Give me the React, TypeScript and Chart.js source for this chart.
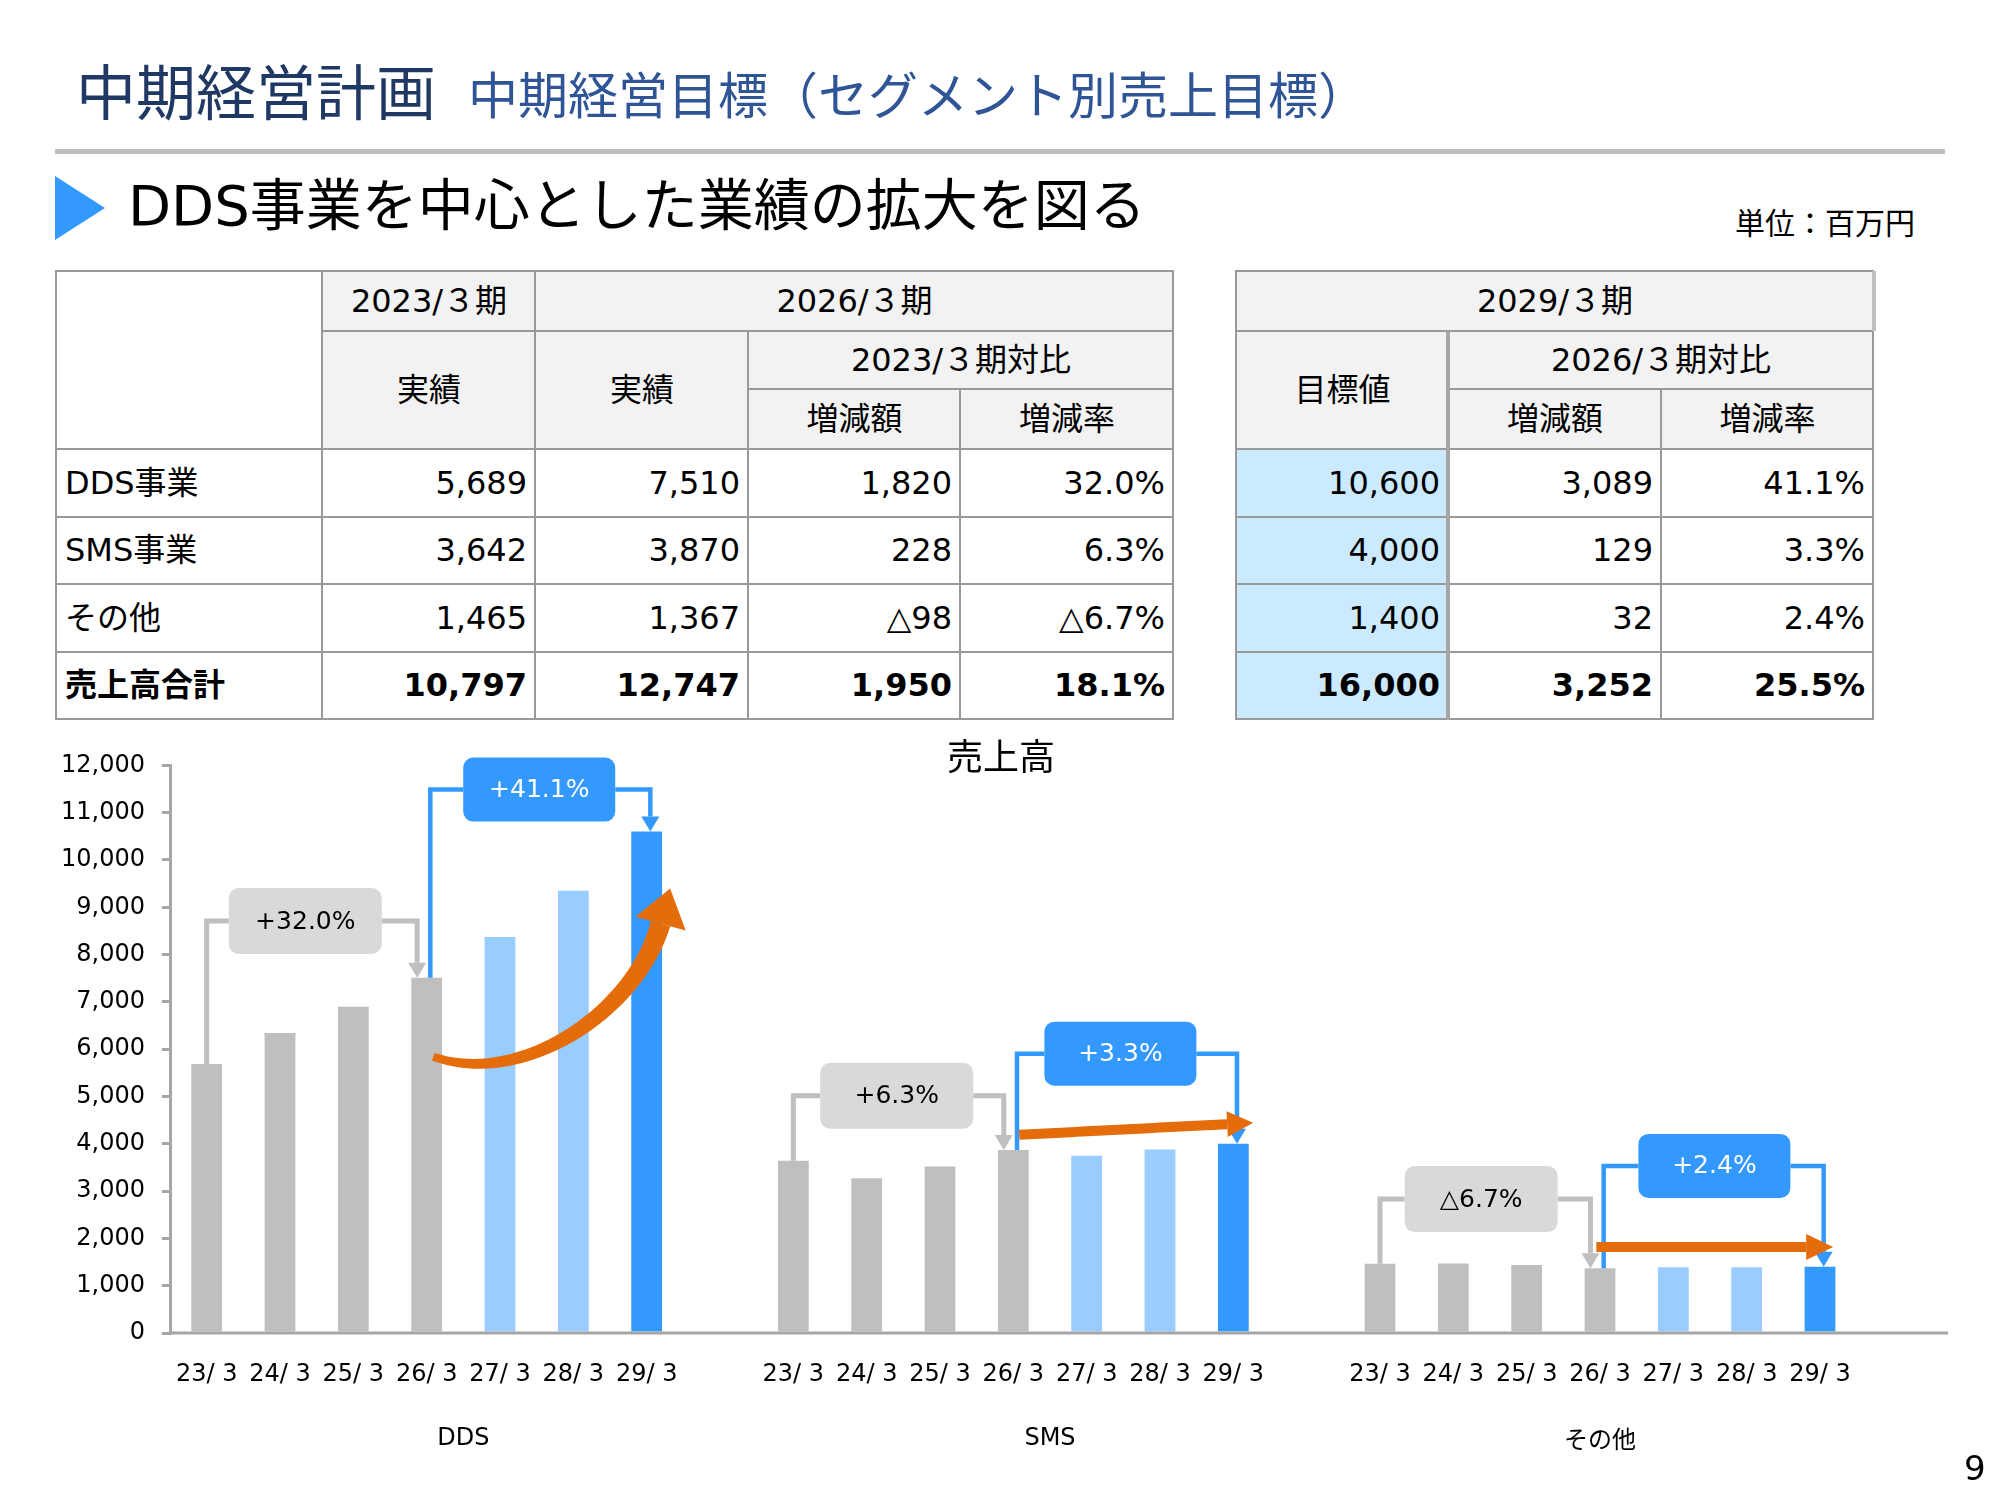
import React, { useEffect, useRef } from "react";
import { Chart, registerables } from "chart.js";

Chart.register(...registerables);

const FONT_LATIN = "'DejaVu Sans', 'Noto Sans CJK JP', sans-serif";
const FONT_JP = "'Noto Sans CJK JP', sans-serif";

// ---------------- data ----------------
const periods = ["23/ 3", "24/ 3", "25/ 3", "26/ 3", "27/ 3", "28/ 3", "29/ 3"];
const periodKinds = ["actual", "actual", "actual", "actual", "plan", "plan", "target"];
const segmentLabels = ["DDS", "SMS", "その他"];
const ddsSales = [5689, 6340, 6900, 7510, 8370, 9350, 10600];
const smsSales = [3642, 3270, 3520, 3870, 3750, 3880, 4000];
const otherSales = [1465, 1470, 1440, 1367, 1390, 1390, 1400];
const change23to26 = ["+32.0%", "+6.3%", "△6.7%"];
const change26to29 = ["+41.1%", "+3.3%", "+2.4%"];
const yMax = 12000;
const yStep = 1000;

// table data
const tableRowLabels = ["DDS事業", "SMS事業", "その他", "売上高合計"];
const actual2023 = ["5,689", "3,642", "1,465", "10,797"];
const actual2026 = ["7,510", "3,870", "1,367", "12,747"];
const diff26vs23 = ["1,820", "228", "△98", "1,950"];
const rate26vs23 = ["32.0%", "6.3%", "△6.7%", "18.1%"];
const target2029 = ["10,600", "4,000", "1,400", "16,000"];
const diff29vs26 = ["3,089", "129", "32", "3,252"];
const rate29vs26 = ["41.1%", "3.3%", "2.4%", "25.5%"];

// ---------------- layout / style ----------------
const kindColor: Record<string, string> = { actual: "#BFBFBF", plan: "#99CCFF", target: "#3399FF" };
const groupSize = 8; // 7 periods + 1 spacer
const groupLabelSpan = [[0, 7], [8, 15], [16, 22]];
const groupLabelDy = [0, 0, 3];
// annotation box centres: [category offset within group, value]
const grayBoxPos = [[1.345, 8710], [1.41, 5016], [1.38, 2831]];
const blueBoxPos = [[4.535, 11488], [4.46, 5906], [4.56, 3533]];
const orangeArrows = [
  { pts: [[3.09, 5841], [4.28, 5185], [5.85, 6772], [6.19, 8656]], tip: [6.32, 9397], w0: 8, w1: 20, headHalf: 26, headLen: 0 },
  { pts: [[3.08, 4190]], tip: [6.27, 4444], w0: 10, w1: 10, headHalf: 13, headLen: 26 },
  { pts: [[2.95, 1820]], tip: [6.18, 1820], w0: 10, w1: 10, headHalf: 13, headLen: 27 },
];

const seriesList = [ddsSales, smsSales, otherSales];

function drawBracket(ctx: CanvasRenderingContext2D, o: any) {
  const headH = 15;
  const headHalf = 9;
  ctx.strokeStyle = o.color;
  ctx.lineWidth = o.lw;
  ctx.lineJoin = "miter";
  ctx.lineCap = "butt";
  ctx.beginPath();
  ctx.moveTo(o.x0, o.y0);
  ctx.lineTo(o.x0, o.by);
  ctx.lineTo(o.bx - o.w / 2, o.by);
  ctx.moveTo(o.bx + o.w / 2, o.by);
  ctx.lineTo(o.x1, o.by);
  ctx.lineTo(o.x1, o.y1 - headH);
  ctx.stroke();
  ctx.fillStyle = o.color;
  ctx.beginPath();
  ctx.moveTo(o.x1 - headHalf, o.y1 - headH);
  ctx.lineTo(o.x1 + headHalf, o.y1 - headH);
  ctx.lineTo(o.x1, o.y1);
  ctx.closePath();
  ctx.fill();
  ctx.fillStyle = o.fill;
  ctx.beginPath();
  (ctx as any).roundRect(o.bx - o.w / 2, o.by - o.h / 2, o.w, o.h, 10);
  ctx.fill();
  ctx.fillStyle = o.textColor;
  ctx.font = "25px 'DejaVu Sans', 'Noto Sans CJK JP'";
  ctx.textAlign = "center";
  ctx.textBaseline = "middle";
  ctx.fillText(o.text, o.bx, o.by + 1);
}

function drawOrange(ctx: CanvasRenderingContext2D, pts: number[][], tip: number[], w0: number, w1: number, headHalf: number, headLen: number) {
  let point: (t: number) => number[];
  let deriv: (t: number) => number[];
  let base: number[];
  if (pts.length === 4) {
    const [p0, p1, p2, p3] = pts;
    base = p3;
    point = (t) => {
      const u = 1 - t;
      return [0, 1].map((k) => u * u * u * p0[k] + 3 * u * u * t * p1[k] + 3 * u * t * t * p2[k] + t * t * t * p3[k]);
    };
    deriv = (t) => {
      const u = 1 - t;
      return [0, 1].map((k) => 3 * u * u * (p1[k] - p0[k]) + 6 * u * t * (p2[k] - p1[k]) + 3 * t * t * (p3[k] - p2[k]));
    };
  } else {
    const p0 = pts[0];
    const dx = tip[0] - p0[0];
    const dy = tip[1] - p0[1];
    const L = Math.hypot(dx, dy);
    base = [tip[0] - (dx / L) * headLen, tip[1] - (dy / L) * headLen];
    point = (t) => [p0[0] + (base[0] - p0[0]) * t, p0[1] + (base[1] - p0[1]) * t];
    deriv = () => [dx, dy];
  }
  const N = 40;
  const left: number[][] = [];
  const right: number[][] = [];
  for (let k = 0; k <= N; k++) {
    const t = k / N;
    const p = point(t);
    const d = deriv(t);
    const l = Math.hypot(d[0], d[1]) || 1;
    const n = [-d[1] / l, d[0] / l];
    const w = w0 + (w1 - w0) * t;
    left.push([p[0] + (n[0] * w) / 2, p[1] + (n[1] * w) / 2]);
    right.push([p[0] - (n[0] * w) / 2, p[1] - (n[1] * w) / 2]);
  }
  ctx.fillStyle = "#E46C0A";
  ctx.beginPath();
  ctx.moveTo(left[0][0], left[0][1]);
  left.forEach((p) => ctx.lineTo(p[0], p[1]));
  for (let k = right.length - 1; k >= 0; k--) ctx.lineTo(right[k][0], right[k][1]);
  ctx.closePath();
  ctx.fill();
  const dx = tip[0] - base[0];
  const dy = tip[1] - base[1];
  const L = Math.hypot(dx, dy) || 1;
  const n = [-dy / L, dx / L];
  ctx.beginPath();
  ctx.moveTo(base[0] + n[0] * headHalf, base[1] + n[1] * headHalf);
  ctx.lineTo(base[0] - n[0] * headHalf, base[1] - n[1] * headHalf);
  ctx.lineTo(tip[0], tip[1]);
  ctx.closePath();
  ctx.fill();
}

const annotationPlugin = {
  id: "salesAnnotations",
  afterDraw(chart: any) {
    const { ctx, chartArea, scales } = chart;
    const xs = scales.x;
    const ys = scales.y;
    const px = (i: number) => xs.getPixelForValue(i);
    const py = (v: number) => ys.getPixelForValue(v);
    ctx.save();
    // x baseline
    ctx.strokeStyle = "#A6A6A6";
    ctx.lineWidth = 3;
    ctx.beginPath();
    ctx.moveTo(chartArea.left, chartArea.bottom);
    ctx.lineTo(chartArea.right + 18, chartArea.bottom);
    ctx.stroke();

    seriesList.forEach((series, g) => {
      const b = g * groupSize;
      drawBracket(ctx, {
        x0: px(b + 0), y0: py(series[0]),
        x1: px(b + 3 - 0.13), y1: py(series[3]),
        bx: px(b + grayBoxPos[g][0]), by: py(grayBoxPos[g][1]),
        w: 153, h: 66, color: "#BFBFBF", lw: 5, fill: "#D9D9D9", textColor: "#000000",
        text: change23to26[g],
      });
      drawBracket(ctx, {
        x0: px(b + 3 + 0.05), y0: py(series[3]),
        x1: px(b + 6 + 0.05), y1: py(series[6]),
        bx: px(b + blueBoxPos[g][0]), by: py(blueBoxPos[g][1]),
        w: 152, h: 64, color: "#3399FF", lw: 4.5, fill: "#3399FF", textColor: "#FFFFFF",
        text: change26to29[g],
      });
    });

    orangeArrows.forEach((a, g) => {
      const b = g * groupSize;
      const pts = a.pts.map((p) => [px(b + p[0]), py(p[1])]);
      const tip = [px(b + a.tip[0]), py(a.tip[1])];
      drawOrange(ctx, pts, tip, a.w0, a.w1, a.headHalf, a.headLen);
    });

    ctx.fillStyle = "#000000";
    ctx.font = "24px 'DejaVu Sans', 'Noto Sans CJK JP'";
    ctx.textAlign = "center";
    ctx.textBaseline = "middle";
    segmentLabels.forEach((s, g) => {
      const [a, c] = groupLabelSpan[g];
      ctx.fillText(s, (px(a) + px(c)) / 2, chartArea.bottom + 106 + groupLabelDy[g]);
    });
    ctx.restore();
  },
};

function SalesChart() {
  const ref = useRef<HTMLCanvasElement | null>(null);
  useEffect(() => {
    if (!ref.current) return;
    const labels: string[] = [];
    const values: (number | null)[] = [];
    const colors: string[] = [];
    seriesList.forEach((series) => {
      series.forEach((v, i) => {
        labels.push(periods[i]);
        values.push(v);
        colors.push(kindColor[periodKinds[i]]);
      });
      labels.push("");
      values.push(null);
      colors.push("rgba(0,0,0,0)");
    });
    const chart = new Chart(ref.current, {
      type: "bar",
      data: {
        labels,
        datasets: [
          { data: values, backgroundColor: colors, barPercentage: 0.42, categoryPercentage: 1, borderWidth: 0 },
        ],
      },
      options: {
        responsive: false,
        animation: false,
        devicePixelRatio: 1,
        layout: { padding: { left: 0, right: 70, top: 0, bottom: 0 } },
        plugins: { legend: { display: false }, tooltip: { enabled: false }, title: { display: false } },
        scales: {
          x: {
            offset: true,
            grid: { display: false, drawTicks: false },
            border: { display: false },
            ticks: {
              autoSkip: false, maxRotation: 0, minRotation: 0, padding: 27, color: "#000000",
              font: { family: FONT_LATIN, size: 24 },
            },
            afterFit: (s: any) => { s.height = 167; },
          },
          y: {
            min: 0,
            max: yMax,
            ticks: {
              stepSize: yStep, padding: 17, color: "#000000",
              font: { family: FONT_LATIN, size: 24 },
              callback: (v: any) => Number(v).toLocaleString("en-US"),
            },
            grid: { display: true, drawOnChartArea: false, drawTicks: true, tickLength: 8, color: "#A6A6A6", lineWidth: 3 },
            border: { display: true, color: "#A6A6A6", width: 3 },
            afterFit: (s: any) => { s.width = 170; },
          },
        },
      } as any,
      plugins: [annotationPlugin as any],
    });
    return () => chart.destroy();
  }, []);
  return (
    <canvas
      ref={ref}
      width={2000}
      height={766}
      style={{ position: "absolute", left: 0, top: 734, width: 2000, height: 766 }}
    />
  );
}

type CellSpec = { x0: number; x1: number; y0: number; y1: number; text: string; bg?: string; align?: string; bold?: boolean };

function Cell({ c }: { c: CellSpec }) {
  return (
    <div
      style={{
        position: "absolute",
        left: c.x0 - 1,
        top: c.y0 - 1,
        width: c.x1 - c.x0 + 2,
        height: c.y1 - c.y0 + 2,
        boxSizing: "border-box",
        border: "2px solid #999999",
        background: c.bg || "#FFFFFF",
        display: "flex",
        alignItems: "center",
        justifyContent: c.align === "left" ? "flex-start" : c.align === "right" ? "flex-end" : "center",
        padding: "0 7px 0 8px",
        fontFamily: FONT_LATIN,
        fontSize: 32,
        fontWeight: c.bold ? 700 : 400,
        color: "#000000",
        whiteSpace: "nowrap",
        lineHeight: 1.2,
      }}
    >
      {c.text}
    </div>
  );
}

const ROWS = [271, 331, 389, 449, 517, 584, 652, 719];
const T1 = [56, 322, 535, 748, 960, 1173];
const T2 = [1236, 1448, 1661, 1873];
const HEAD = "#F2F2F2";
const TARGET_BG = "#CCEAFF";

function buildCells(): CellSpec[] {
  const cells: CellSpec[] = [];
  const R = ROWS;
  // table 1 header
  cells.push({ x0: T1[0], x1: T1[1], y0: R[0], y1: R[3], text: "" });
  cells.push({ x0: T1[1], x1: T1[2], y0: R[0], y1: R[1], text: "2023/３期", bg: HEAD });
  cells.push({ x0: T1[2], x1: T1[5], y0: R[0], y1: R[1], text: "2026/３期", bg: HEAD });
  cells.push({ x0: T1[1], x1: T1[2], y0: R[1], y1: R[3], text: "実績", bg: HEAD });
  cells.push({ x0: T1[2], x1: T1[3], y0: R[1], y1: R[3], text: "実績", bg: HEAD });
  cells.push({ x0: T1[3], x1: T1[5], y0: R[1], y1: R[2], text: "2023/３期対比", bg: HEAD });
  cells.push({ x0: T1[3], x1: T1[4], y0: R[2], y1: R[3], text: "増減額", bg: HEAD });
  cells.push({ x0: T1[4], x1: T1[5], y0: R[2], y1: R[3], text: "増減率", bg: HEAD });
  tableRowLabels.forEach((lab, i) => {
    const y0 = R[3 + i];
    const y1 = R[4 + i];
    const bold = i === tableRowLabels.length - 1;
    cells.push({ x0: T1[0], x1: T1[1], y0, y1, text: lab, align: "left", bold });
    cells.push({ x0: T1[1], x1: T1[2], y0, y1, text: actual2023[i], align: "right", bold });
    cells.push({ x0: T1[2], x1: T1[3], y0, y1, text: actual2026[i], align: "right", bold });
    cells.push({ x0: T1[3], x1: T1[4], y0, y1, text: diff26vs23[i], align: "right", bold });
    cells.push({ x0: T1[4], x1: T1[5], y0, y1, text: rate26vs23[i], align: "right", bold });
  });
  // table 2
  cells.push({ x0: T2[0], x1: T2[3], y0: R[0], y1: R[1], text: "2029/３期", bg: HEAD });
  cells.push({ x0: T2[0], x1: T2[1], y0: R[1], y1: R[3], text: "目標値", bg: HEAD });
  cells.push({ x0: T2[1], x1: T2[3], y0: R[1], y1: R[2], text: "2026/３期対比", bg: HEAD });
  cells.push({ x0: T2[1], x1: T2[2], y0: R[2], y1: R[3], text: "増減額", bg: HEAD });
  cells.push({ x0: T2[2], x1: T2[3], y0: R[2], y1: R[3], text: "増減率", bg: HEAD });
  tableRowLabels.forEach((_, i) => {
    const y0 = R[3 + i];
    const y1 = R[4 + i];
    const bold = i === tableRowLabels.length - 1;
    cells.push({ x0: T2[0], x1: T2[1], y0, y1, text: target2029[i], align: "right", bold, bg: TARGET_BG });
    cells.push({ x0: T2[1], x1: T2[2], y0, y1, text: diff29vs26[i], align: "right", bold });
    cells.push({ x0: T2[2], x1: T2[3], y0, y1, text: rate29vs26[i], align: "right", bold });
  });
  return cells;
}

export default function App() {
  const cells = buildCells();
  return (
    <div
      style={{
        position: "absolute",
        left: 0,
        top: 0,
        width: 2000,
        height: 1500,
        background: "#FFFFFF",
        overflow: "hidden",
      }}
    >
      <div style={{ position: "absolute", left: 76, top: 59, fontFamily: FONT_JP, fontSize: 60, lineHeight: "60px", color: "#203864", whiteSpace: "nowrap" }}>
        中期経営計画
      </div>
      <div style={{ position: "absolute", left: 468, top: 67, fontFamily: FONT_JP, fontSize: 50, lineHeight: "50px", color: "#2F5597", whiteSpace: "nowrap" }}>
        中期経営目標（セグメント別売上目標）
      </div>
      <div style={{ position: "absolute", left: 55, top: 149, width: 1890, height: 5, background: "#BFBFBF" }} />
      <svg style={{ position: "absolute", left: 0, top: 0 }} width={200} height={300}>
        <polygon points="55,176 105,208 55,240" fill="#3399FF" />
      </svg>
      <div style={{ position: "absolute", left: 128, top: 178, fontFamily: FONT_LATIN, fontSize: 56, lineHeight: "56px", color: "#000000", whiteSpace: "nowrap" }}>
        DDS事業を中心とした業績の拡大を図る
      </div>
      <div style={{ position: "absolute", left: 1735, top: 206, fontFamily: FONT_JP, fontSize: 30, lineHeight: "30px", color: "#000000", whiteSpace: "nowrap" }}>
        単位：百万円
      </div>
      {cells.map((c, i) => (
        <Cell key={i} c={c} />
      ))}
      <div style={{ position: "absolute", left: 1872, top: 271, width: 4, height: 60, background: "#BFBFBF" }} />
      <div style={{ position: "absolute", left: 1446, top: 331, width: 4, height: 389, background: "#A6A6A6" }} />
      <SalesChart />
      <div style={{ position: "absolute", left: 901, top: 736, width: 200, textAlign: "center", fontFamily: FONT_JP, fontSize: 36, lineHeight: "36px", color: "#000000" }}>
        売上高
      </div>
      <div style={{ position: "absolute", left: 1964, top: 1451, fontFamily: FONT_LATIN, fontSize: 34, lineHeight: "34px", color: "#000000" }}>
        9
      </div>
    </div>
  );
}
